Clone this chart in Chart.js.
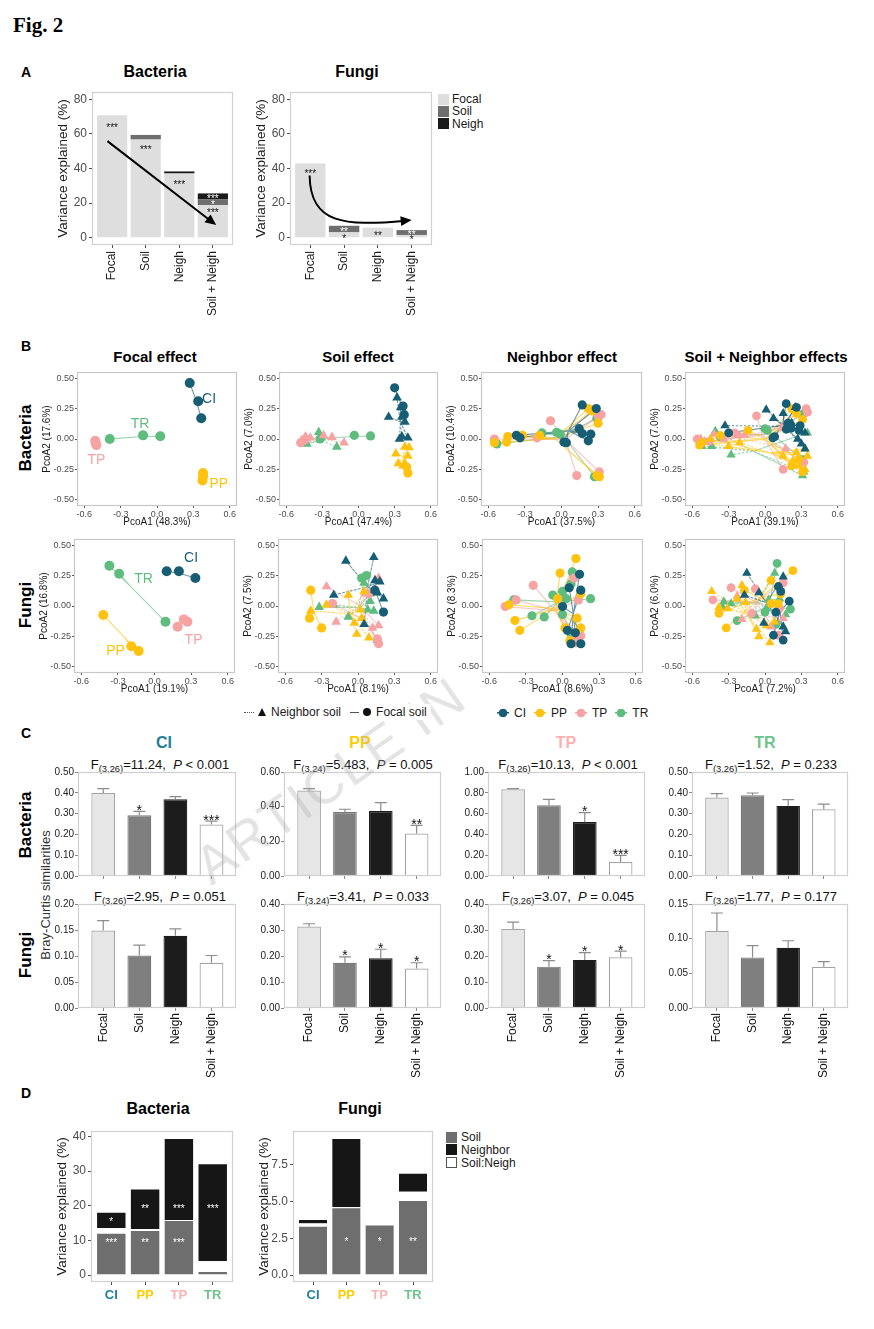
<!DOCTYPE html>
<html>
<head>
<meta charset="utf-8">
<title>Fig. 2</title>
<script src="https://cdn.jsdelivr.net/npm/chart.js@4.4.1/dist/chart.umd.min.js"></script>
<style>
  body { margin: 0; background: #fff; }
  #page { position: relative; width: 874px; height: 1329px; overflow: hidden; font-family: 'Liberation Sans', Arial, sans-serif; color: #111; }
  .t { position: absolute; white-space: nowrap; line-height: 1; }
  .t sub { font-size: 0.72em; vertical-align: -0.35em; line-height: 0; }
  .leg { position: absolute; display: flex; align-items: center; font-size: 12px; color: #1a1a1a; background: #fff; z-index: 5; height: 16px; }
  .leg span { display: inline-block; }
</style>
</head>
<body>
<div id="page"></div>
<script>
// ---------- panel A : variance explained
const aCats = ['Focal', 'Soil', 'Neigh', 'Soil + Neigh'];
const aBactFocal = [70.8, 56.7, 37.1, 18.9];
const aBactSoil = [0, 2.7, 0, 3.2];
const aBactNeigh = [0, 0, 1.2, 3.5];
const aFungFocal = [42.9, 3.1, 5.8, 1.6];
const aFungSoil = [0, 3.8, 0, 2.8];
const aFungNeigh = [0, 0, 0, 0];
const aTicks = [0, 20, 40, 60, 80];
const aBactSig = [[1, 65, '***', '#111'], [2, 52, '***', '#111'], [3, 32.3, '***', '#111'], [4, 24, '***', '#fff'], [4, 20.6, '*', '#fff'], [4, 15.6, '***', '#111']];
const aFungSig = [[1, 38.6, '***', '#111'], [2, 5.0, '**', '#fff'], [2, 1.0, '*', '#111'], [3, 2.8, '**', '#111'], [4, 3.0, '**', '#fff'], [4, 0.5, '*', '#111']];
const aBactArrow = [[0.86, 55.8], [4.1, 7.3]];
const aFungArrow = [[0.98, 36], [1.0, 8], [2.0, 6.5], [4.0, 10.2]];

// ---------- panel B : PCoA, rows are [species, shape, PcoA1, PcoA2]
const SP = ['CI', 'PP', 'TP', 'TR'];
const pcX = [-0.6, -0.3, 0, 0.3, 0.6];
const pcY = [-0.5, -0.25, 0, 0.25, 0.5];

const bFocalPts = [
  ['CI','o',0.27,0.46],['CI','o',0.34,0.31],['CI','o',0.365,0.17],
  ['TR','o',-0.39,0.0],['TR','o',-0.115,0.03],['TR','o',0.027,0.022],
  ['TP','o',-0.51,-0.015],['TP','o',-0.505,-0.035],['TP','o',-0.50,-0.05],
  ['PP','o',0.38,-0.28],['PP','o',0.38,-0.31],['PP','o',0.375,-0.34]
];
const bFocalTags = [['CI',0.43,0.34],['TR',-0.14,0.13],['TP',-0.50,-0.16],['PP',0.51,-0.36]];

const bSoilPts = [
  ['CI','o',0.30,0.42],['CI','o',0.37,0.27],['CI','o',0.38,0.20],
  ['CI','^',0.32,0.34],['CI','^',0.25,0.18],['CI','^',0.35,0.26],['CI','^',0.36,0.18],['CI','^',0.385,0.14],['CI','^',0.36,0.02],['CI','^',0.41,0.01],['CI','^',0.34,0.0],
  ['PP','o',0.40,-0.23],['PP','o',0.41,-0.28],
  ['PP','^',0.31,-0.12],['PP','^',0.33,-0.20],['PP','^',0.385,-0.065],['PP','^',0.42,-0.07],['PP','^',0.41,-0.14],['PP','^',0.385,-0.20],['PP','^',0.37,-0.22],
  ['TR','o',-0.32,0.0],['TR','o',-0.035,0.03],['TR','o',0.10,0.025],
  ['TR','^',-0.33,0.055],['TR','^',-0.31,0.01],['TR','^',-0.43,-0.04],['TR','^',-0.18,-0.065],
  ['TP','o',-0.45,-0.01],['TP','o',-0.48,-0.03],
  ['TP','^',-0.43,0.0],['TP','^',-0.40,0.01],['TP','^',-0.47,-0.01],['TP','^',-0.29,0.03],['TP','^',-0.22,0.015],['TP','^',-0.12,-0.03],['TP','^',-0.44,0.02]
];

const bNeighPts = [
  ['CI','o',0.17,0.28],['CI','o',0.285,0.25],['CI','o',0.145,0.085],['CI','o',0.17,0.045],['CI','o',0.24,0.04],['CI','o',0.22,-0.015],['CI','o',0.02,-0.025],['CI','o',0.04,-0.03],['CI','o',-0.37,0.03],['CI','o',-0.34,0.01],
  ['PP','o',0.22,0.25],['PP','o',0.25,0.23],['PP','o',0.30,0.13],['PP','o',-0.32,0.03],['PP','o',-0.44,0.02],['PP','o',-0.45,-0.025],['PP','o',-0.55,-0.03],['PP','o',-0.18,0.03],['PP','o',0.31,-0.31],['PP','o',0.29,-0.30],
  ['TP','o',-0.09,0.15],['TP','o',0.325,0.20],['TP','o',-0.20,0.01],['TP','o',0.125,-0.30],['TP','o',0.31,-0.27],['TP','o',-0.55,0.0],['TP','o',0.30,0.19],
  ['TR','o',0.30,0.18],['TR','o',0.27,-0.31],['TR','o',-0.53,-0.04],['TR','o',-0.16,0.05],['TR','o',-0.04,0.055],['TR','o',-0.01,0.04],['TR','o',0.29,0.17]
];

const bBothPts = [
  ['CI','^',0.01,0.24],['CI','^',0.15,0.21],['CI','^',0.07,0.17],['CI','^',-0.33,0.11],['CI','^',0.25,0.26],['CI','^',0.22,0.13],['CI','^',0.33,0.05],['CI','^',0.27,0.0],['CI','^',0.33,-0.08],['CI','^',0.30,-0.04],
  ['CI','o',0.175,0.29],['CI','o',0.26,0.26],['CI','o',0.19,0.13],['CI','o',0.175,0.08],['CI','o',0.215,0.09],['CI','o',0.08,0.02],['CI','o',0.065,0.01],['CI','o',-0.30,0.05],['CI','o',0.29,0.11],['CI','o',0.28,0.07],
  ['PP','o',0.22,0.25],['PP','o',0.26,0.21],['PP','o',0.31,0.16],['PP','o',-0.14,0.07],['PP','o',-0.37,0.03],['PP','o',-0.52,-0.03],['PP','o',-0.54,-0.05],['PP','o',0.31,-0.27],['PP','o',0.22,-0.22],['PP','o',0.28,-0.17],
  ['PP','^',0.15,-0.14],['PP','^',0.26,-0.11],['PP','^',0.33,-0.08],['PP','^',0.23,-0.18],['PP','^',0.28,-0.22],['PP','^',0.33,-0.25],['PP','^',0.35,-0.14],['PP','^',-0.53,-0.03],['PP','^',-0.45,0.0],['PP','^',-0.30,-0.06],['PP','^',-0.21,-0.03],
  ['TP','o',-0.07,0.19],['TP','o',0.15,-0.25],['TP','o',0.34,0.25],['TP','o',0.35,0.22],['TP','o',-0.56,0.0],['TP','o',-0.46,-0.02],['TP','o',-0.25,0.05],['TP','o',0.32,-0.19],
  ['TP','^',-0.42,0.04],['TP','^',-0.34,0.0],['TP','^',-0.21,0.03],['TP','^',-0.17,0.03],['TP','^',0.14,0.09],['TP','^',-0.50,-0.02],['TP','^',-0.53,0.0],['TP','^',0.17,-0.08],
  ['TR','o',0.32,0.21],['TR','o',0.0,0.085],['TR','o',0.02,0.07],['TR','o',-0.37,0.02],['TR','o',0.31,-0.17],
  ['TR','^',-0.41,0.065],['TR','^',-0.28,-0.13],['TR','^',-0.52,-0.06],['TR','^',0.35,0.05],['TR','^',0.31,-0.30],['TR','^',0.32,-0.27],['TR','^',-0.44,-0.06]
];

const fFocalPts = [
  ['CI','o',0.10,0.285],['CI','o',0.20,0.285],['CI','o',0.335,0.23],
  ['TR','o',-0.37,0.33],['TR','o',-0.29,0.265],['TR','o',0.09,-0.13],
  ['TP','o',0.19,-0.17],['TP','o',0.24,-0.11],['TP','o',0.27,-0.13],
  ['PP','o',-0.42,-0.074],['PP','o',-0.19,-0.33],['PP','o',-0.13,-0.37]
];
const fFocalTags = [['CI',0.30,0.40],['TR',-0.09,0.23],['TP',0.32,-0.27],['PP',-0.32,-0.36]];

const fSoilPts = [
  ['CI','^',-0.10,0.37],['CI','^',0.13,0.40],['CI','^',-0.20,0.09],['CI','^',0.14,0.21],['CI','^',0.18,0.20],['CI','^',0.14,0.13],['CI','^',0.16,0.11],['CI','^',0.21,0.06],['CI','^',0.05,-0.15],
  ['CI','o',0.21,-0.05],['CI','o',0.14,0.13],
  ['PP','o',-0.39,0.13],['PP','o',-0.40,-0.10],['PP','o',-0.30,-0.18],
  ['PP','^',-0.39,-0.04],['PP','^',-0.08,0.09],['PP','^',0.05,0.12],['PP','^',-0.03,-0.14],['PP','^',-0.01,-0.23],['PP','^',0.09,-0.26],['PP','^',0.02,-0.03],['PP','^',0.03,-0.10],['PP','^',-0.26,0.01],
  ['TR','o',0.03,0.23],['TR','o',0.07,0.25],
  ['TR','^',0.05,0.19],['TR','^',-0.20,0.01],['TR','^',0.10,0.10],['TR','^',0.10,0.04],['TR','^',0.13,-0.04],['TR','^',-0.32,-0.01],['TR','^',-0.08,-0.09],['TR','^',0.08,-0.03],['TR','^',0.16,-0.28],
  ['TP','^',-0.26,0.16],['TP','^',-0.18,-0.13],['TP','^',0.17,0.23],['TP','^',0.06,0.10],['TP','^',0.17,-0.16],['TP','^',0.12,-0.18],
  ['TP','o',-0.21,0.02],['TP','o',0.16,-0.27],['TP','o',0.17,-0.31],['TP','o',0.09,0.10]
];

const fNeighPts = [
  ['CI','o',0.14,0.26],['CI','o',0.055,0.15],['CI','o',0.15,0.13],['CI','o',0.0,-0.005],['CI','o',0.04,-0.20],['CI','o',0.07,-0.31],['CI','o',0.15,-0.31],['CI','o',0.105,-0.22],
  ['PP','o',0.11,0.39],['PP','o',-0.02,0.27],['PP','o',-0.44,0.01],['PP','o',-0.39,-0.12],['PP','o',-0.35,-0.20],['PP','o',-0.04,0.06],['PP','o',0.15,0.10],['PP','o',0.02,-0.18],['PP','o',0.06,-0.285],['PP','o',0.15,-0.18],['PP','o',0.12,-0.10],
  ['TP','o',-0.24,0.17],['TP','o',-0.47,-0.005],['TP','o',-0.38,0.05],['TP','o',0.095,0.23],['TP','o',0.13,0.05],['TP','o',0.11,-0.25],['TP','o',0.15,-0.245],['TP','o',0.11,-0.30],
  ['TR','o',-0.40,0.05],['TR','o',-0.25,-0.08],['TR','o',-0.15,-0.09],['TR','o',-0.08,0.09],['TR','o',0.0,0.12],['TR','o',0.03,0.06],['TR','o',0.08,0.28],['TR','o',0.07,0.18],['TR','o',0.23,0.06],['TR','o',0.0,-0.07],['TR','o',0.07,-0.23]
];

const fBothPts = [
  ['CI','^',-0.15,0.27],['CI','^',0.15,0.24],['CI','^',-0.05,0.11],['CI','^',-0.17,0.09],['CI','^',-0.01,-0.14],['CI','^',0.15,-0.17],['CI','^',0.17,-0.21],
  ['CI','o',0.11,0.16],['CI','o',0.13,0.12],['CI','o',0.20,0.04],['CI','o',0.09,-0.05],['CI','o',0.15,-0.28],['CI','o',0.07,-0.24],
  ['PP','^',-0.44,0.12],['PP','^',-0.19,0.17],['PP','^',-0.38,-0.01],['PP','^',-0.31,-0.02],['PP','^',-0.23,0.06],['PP','^',-0.16,0.03],['PP','^',-0.07,-0.19],['PP','^',-0.05,-0.25],['PP','^',0.04,-0.30],['PP','^',0.01,-0.16],['PP','^',0.08,-0.13],
  ['PP','o',-0.38,-0.06],['PP','o',-0.32,-0.18],['PP','o',0.23,0.29],['PP','o',0.05,0.21],['PP','o',0.13,0.10],['PP','o',0.11,0.02],['PP','o',0.05,0.02],['PP','o',-0.17,0.13],
  ['TP','o',-0.43,0.05],['TP','o',-0.28,0.15],['TP','o',-0.08,0.14],['TP','o',0.15,0.19],['TP','o',0.12,-0.02],['TP','o',0.11,-0.24],['TP','o',-0.11,-0.06],
  ['TP','^',-0.19,-0.11],['TP','^',-0.23,0.08],['TP','^',0.15,-0.10],['TP','^',0.05,-0.17],
  ['TR','o',0.10,0.35],['TR','o',0.21,-0.025],['TR','o',-0.23,-0.12],['TR','o',0.0,-0.05],['TR','o',0.09,-0.15],
  ['TR','^',0.08,0.27],['TR','^',-0.34,0.035],['TR','^',-0.28,0.02],['TR','^',-0.35,-0.01],['TR','^',0.01,-0.02],['TR','^',0.12,0.06],['TR','^',0.03,0.05],['TR','^',-0.08,-0.08],['TR','^',0.17,-0.07]
];

// ---------- panel C : Bray-Curtis similarities (mean, s.e., significance)
const cCats = ['Focal', 'Soil', 'Neigh', 'Soil + Neigh'];
const bactCI = [0.399, 0.292, 0.369, 0.247];
const bactCIse = [0.021, 0.019, 0.013, 0.017];
const bactCIsig = ['', '*', '', '***'];
const bactPP = [0.493, 0.369, 0.375, 0.245];
const bactPPse = [0.011, 0.016, 0.048, 0.047];
const bactPPsig = ['', '', '', '**'];
const bactTP = [0.834, 0.68, 0.519, 0.135];
const bactTPse = [0.006, 0.057, 0.091, 0.064];
const bactTPsig = ['', '', '*', '***'];
const bactTR = [0.377, 0.388, 0.337, 0.321];
const bactTRse = [0.019, 0.011, 0.030, 0.025];
const bactTRsig = ['', '', '', ''];
const fungCI = [0.149, 0.101, 0.139, 0.087];
const fungCIse = [0.019, 0.020, 0.013, 0.014];
const fungCIsig = ['', '', '', ''];
const fungPP = [0.313, 0.174, 0.191, 0.152];
const fungPPse = [0.011, 0.023, 0.035, 0.022];
const fungPPsig = ['', '*', '*', '*'];
const fungTP = [0.304, 0.159, 0.185, 0.195];
const fungTPse = [0.026, 0.023, 0.028, 0.024];
const fungTPsig = ['', '*', '*', '*'];
const fungTR = [0.111, 0.073, 0.087, 0.0595];
const fungTRse = [0.026, 0.017, 0.010, 0.0075];
const fungTRsig = ['', '', '', ''];
const tk05 = [0, 0.1, 0.2, 0.3, 0.4, 0.5];
const tk06 = [0, 0.2, 0.4, 0.6];
const tk10 = [0, 0.2, 0.4, 0.6, 0.8, 1.0];
const tk02 = [0, 0.05, 0.1, 0.15, 0.2];
const tk04 = [0, 0.1, 0.2, 0.3, 0.4];
const tk015 = [0, 0.05, 0.1, 0.15];
const cStats = [
  ['3,26', '=11.24', '&lt; 0.001'], ['3,24', '=5.483', '= 0.005'], ['3,26', '=10.13', '&lt; 0.001'], ['3,26', '=1.52', '= 0.233'],
  ['3,26', '=2.95', '= 0.051'], ['3,24', '=3.41', '= 0.033'], ['3,26', '=3.07', '= 0.045'], ['3,26', '=1.77', '= 0.177']
];

// ---------- panel D : soil / neighbour partition per focal species
const dCats = ['CI', 'PP', 'TP', 'TR'];
const dBactSoil = [12.2, 13.0, 15.9, 1.2];
const dBactShared = [1.3, 0.2, 0, 2.8];
const dBactNeigh = [4.8, 11.8, 23.7, 28.3];
const dFungSoil = [3.35, 4.6, 3.43, 5.1];
const dFungShared = [0.15, 0, 0, 0.55];
const dFungNeigh = [0.3, 4.7, 0, 1.3];
const dBactTicks = [0, 10, 20, 30, 40];
const dFungTicks = [0, 2.5, 5, 7.5];
const dBactSig = [[1, 16, '*', '#fff'], [1, 10, '***', '#fff'], [2, 19.8, '**', '#fff'], [2, 10, '**', '#fff'], [3, 19.8, '***', '#fff'], [3, 10, '***', '#fff'], [4, 19.8, '***', '#fff']];
const dFungSig = [[2, 2.4, '*', '#fff'], [3, 2.4, '*', '#fff'], [4, 2.4, '**', '#fff']];

// ---------- colours
const spCol = ['#175e75', '#ffc20e', '#f7a3a3', '#5ebc7e'];
const spHead = ['#23809b', '#ffcc00', '#ffb0b0', '#6cc48c'];
const cFill = ['#e6e6e6', '#7f7f7f', '#1c1c1c', '#ffffff'];
const cEdge = ['#a3a3a3', '#777777', '#1c1c1c', '#a3a3a3'];

const page = document.getElementById('page');
Chart.defaults.font.family = "'Liberation Sans', Arial, sans-serif";
Chart.defaults.plugins.legend.display = false;
Chart.defaults.plugins.tooltip.enabled = false;
Chart.defaults.animation = false;
const PAD = 10;

function label(html, x, y, css, rot, left) {
  const d = document.createElement('div');
  d.className = 't';
  d.innerHTML = html;
  d.style.cssText = css || '';
  d.style.left = x + 'px';
  d.style.top = y + 'px';
  d.style.transform = (left ? 'translate(0,-50%)' : 'translate(-50%,-50%)') + (rot ? ' rotate(' + rot + 'deg)' : '');
  page.appendChild(d);
  return d;
}

function fixed(vals) {
  return a => { a.ticks = vals.map(v => ({ value: v })); };
}

function gridT(len, color) {
  return { display: true, drawOnChartArea: false, drawTicks: true, tickLength: len, color: color, lineWidth: 1, offset: false };
}

// panel box p = [left, top, width, height] of the plotting area
function place(p, yw, xh, cfg) {
  const c = document.createElement('canvas');
  c.width = p[2] + yw + 2 * PAD;
  c.height = p[3] + xh + 2 * PAD;
  c.style.cssText = 'position:absolute;left:' + (p[0] - yw - PAD) + 'px;top:' + (p[1] - PAD) + 'px';
  page.appendChild(c);
  const o = cfg.options;
  o.responsive = false;
  o.animation = false;
  o.layout = { padding: PAD };
  o.scales.x.afterFit = a => { a.height = xh; };
  o.scales.y.afterFit = a => { a.width = yw; };
  return new Chart(c, cfg);
}

function frame(color) {
  return {
    id: 'frame',
    afterDatasetsDraw(chart) {
      const a = chart.chartArea, ctx = chart.ctx;
      ctx.save();
      ctx.strokeStyle = color;
      ctx.lineWidth = 1.2;
      ctx.strokeRect(a.left + 0.5, a.top + 0.5, a.right - a.left - 1, a.bottom - a.top - 1);
      ctx.restore();
    }
  };
}

function notes(items, size) {
  return {
    id: 'notes',
    afterDatasetsDraw(chart) {
      const ctx = chart.ctx, xs = chart.scales.x, ys = chart.scales.y;
      ctx.save();
      ctx.textAlign = 'center';
      ctx.textBaseline = 'alphabetic';
      items.forEach(n => {
        const s = n[4] || size;
        ctx.font = s + "px 'Liberation Sans', Arial";
        ctx.fillStyle = n[3];
        const off = n[2].charAt(0) === '*' ? 0.57 : 0.36;
        ctx.fillText(n[2], xs.getPixelForValue(n[0]), ys.getPixelForValue(n[1]) + off * s);
      });
      ctx.restore();
    }
  };
}

function arrow(pts) {
  return {
    id: 'arrow',
    afterDatasetsDraw(chart) {
      if (!pts) return;
      const ctx = chart.ctx, xs = chart.scales.x, ys = chart.scales.y;
      const p = pts.map(q => [xs.getPixelForValue(q[0]), ys.getPixelForValue(q[1])]);
      const e = p[p.length - 1], s = p[p.length - 2];
      const ang = Math.atan2(e[1] - s[1], e[0] - s[0]);
      ctx.save();
      ctx.strokeStyle = '#000';
      ctx.fillStyle = '#000';
      ctx.lineWidth = 2;
      ctx.beginPath();
      ctx.moveTo(p[0][0], p[0][1]);
      if (p.length === 4) ctx.bezierCurveTo(p[1][0], p[1][1], p[2][0], p[2][1], e[0] - 6 * Math.cos(ang), e[1] - 6 * Math.sin(ang));
      else ctx.lineTo(e[0] - 6 * Math.cos(ang), e[1] - 6 * Math.sin(ang));
      ctx.stroke();
      ctx.beginPath();
      ctx.moveTo(e[0], e[1]);
      ctx.lineTo(e[0] - 11 * Math.cos(ang) + 5 * Math.sin(ang), e[1] - 11 * Math.sin(ang) - 5 * Math.cos(ang));
      ctx.lineTo(e[0] - 11 * Math.cos(ang) - 5 * Math.sin(ang), e[1] - 11 * Math.sin(ang) + 5 * Math.cos(ang));
      ctx.closePath();
      ctx.fill();
      ctx.restore();
    }
  };
}

function errbars(vals, se, sig) {
  return {
    id: 'errbars',
    afterDatasetsDraw(chart) {
      const ctx = chart.ctx, xs = chart.scales.x, ys = chart.scales.y;
      ctx.save();
      vals.forEach((v, i) => {
        const x = xs.getPixelForValue(i + 1), y0 = ys.getPixelForValue(v), y1 = ys.getPixelForValue(v + se[i]);
        ctx.strokeStyle = '#8c8c8c';
        ctx.lineWidth = 1.2;
        ctx.beginPath();
        ctx.moveTo(x, y0); ctx.lineTo(x, y1);
        ctx.moveTo(x - 6, y1); ctx.lineTo(x + 6, y1);
        ctx.stroke();
        if (sig[i]) {
          ctx.fillStyle = '#111';
          ctx.font = "14px 'Liberation Sans', Arial";
          ctx.textAlign = 'center';
          ctx.fillText(sig[i], x, y1 + 3.5);
        }
      });
      ctx.restore();
    }
  };
}

function stackCfg(o) {
  return {
    type: 'bar',
    data: {
      datasets: o.segs.map((s, i) => ({
        data: s.map((v, j) => ({ x: j + 1, y: v })),
        backgroundColor: o.fills[i], borderColor: '#fff', borderWidth: o.bw,
        barPercentage: 0.9, categoryPercentage: 1
      }))
    },
    options: {
      scales: {
        x: {
          type: 'linear', min: 0.4, max: 4.6, stacked: true, offset: false, afterBuildTicks: fixed([1, 2, 3, 4]),
          grid: gridT(3, '#4d4d4d'), border: { display: false },
          ticks: { callback: v => o.names[v - 1], autoSkip: false, minRotation: o.rot, maxRotation: o.rot, font: o.xFont, color: o.xColor, padding: 3 }
        },
        y: {
          min: o.yMin, max: o.yMax, stacked: true, afterBuildTicks: fixed(o.ticks),
          grid: gridT(3, '#4d4d4d'), border: { display: false },
          ticks: { callback: o.fmt, font: { size: 12 }, color: '#4d4d4d', padding: 2 },
          title: { display: true, text: 'Variance explained (%)', font: { size: 13.5 }, color: '#1a1a1a', padding: { top: 3, bottom: 2 } }
        }
      }
    },
    plugins: [frame('#d0d0d0'), notes(o.sig, 10), arrow(o.arrow)]
  };
}

function pcoaCfg(pts, xt, yt, tags, r) {
  const ds = [];
  SP.forEach((sp, k) => {
    ['o', '^'].forEach(sh => {
      const g = pts.filter(p => p[0] === sp && p[1] === sh);
      if (!g.length) return;
      const cx = g.reduce((s, p) => s + p[2], 0) / g.length;
      const cy = g.reduce((s, p) => s + p[3], 0) / g.length;
      const web = [];
      g.forEach(p => web.push({ x: cx, y: cy }, { x: p[2], y: p[3] }));
      ds.push({ data: web, showLine: true, pointRadius: 0, borderColor: spCol[k] + 'a0', borderWidth: 1.1, borderDash: sh === '^' ? [2, 2] : [], order: 2 });
      ds.push({
        data: g.map(p => ({ x: p[2], y: p[3] })), pointStyle: sh === '^' ? 'triangle' : 'circle',
        pointRadius: sh === '^' ? r + 1 : r, backgroundColor: spCol[k], borderColor: spCol[k], borderWidth: 0, order: 1
      });
    });
  });
  const items = (tags || []).map(t => [t[1], t[2], t[0], spCol[SP.indexOf(t[0])], 14]);
  return {
    type: 'scatter',
    data: { datasets: ds },
    options: {
      scales: {
        x: {
          type: 'linear', min: -0.66, max: 0.66, afterBuildTicks: fixed(pcX), grid: gridT(2, '#555'), border: { display: false },
          ticks: { callback: v => v.toFixed(1), font: { size: 9 }, color: '#4d4d4d', padding: 1, maxRotation: 0 },
          title: { display: true, text: xt, font: { size: 10 }, color: '#1a1a1a', padding: { top: 0, bottom: 4 } }
        },
        y: {
          type: 'linear', min: -0.55, max: 0.55, afterBuildTicks: fixed(pcY), grid: gridT(2, '#555'), border: { display: false },
          ticks: { callback: v => v.toFixed(2), font: { size: 9 }, color: '#4d4d4d', padding: 1 },
          title: { display: true, text: yt, font: { size: 10 }, color: '#1a1a1a', padding: { top: 4, bottom: 2 } }
        }
      }
    },
    plugins: [frame('#c8c8c8'), notes(items, 14)]
  };
}

function simCfg(vals, se, sig, ticks, showNames) {
  return {
    type: 'bar',
    data: {
      datasets: [{
        data: vals.map((v, i) => ({ x: i + 1, y: v })),
        backgroundColor: cFill, borderColor: cEdge, borderWidth: 1.2,
        barPercentage: 0.66, categoryPercentage: 1
      }]
    },
    options: {
      scales: {
        x: {
          type: 'linear', min: 0.3, max: 4.68, offset: false, afterBuildTicks: fixed([1, 2, 3, 4]),
          grid: gridT(3, '#888'), border: { display: false },
          ticks: { callback: v => showNames ? cCats[v - 1] : '', autoSkip: false, minRotation: 90, maxRotation: 90, font: { size: 12 }, color: '#111', padding: 2 }
        },
        y: {
          min: 0, max: ticks[ticks.length - 1], afterBuildTicks: fixed(ticks),
          grid: gridT(3, '#888'), border: { display: false },
          ticks: { callback: v => v.toFixed(2), font: { size: 10 }, color: '#222', padding: 1 }
        }
      }
    },
    plugins: [frame('#cfcfcf'), errbars(vals, se, sig)]
  };
}

function keyLegend(x, y, step, items, textX) {
  items.forEach((it, i) => {
    const k = document.createElement('div');
    k.style.cssText = 'position:absolute;left:' + x + 'px;top:' + (y + i * step) + 'px;width:11px;height:11px;box-sizing:border-box;background:' + it[0] + (it[2] ? ';border:1px solid ' + it[2] : '');
    page.appendChild(k);
    label(it[1], textX, y + i * step + 5.5, 'font-size:12px;color:#1a1a1a', 0, true);
  });
}

// ---------- texts
label('Fig. 2', 13, 25, "font-family:'Liberation Serif',serif;font-weight:bold;font-size:21px;color:#000", 0, true);
[['A', 72], ['B', 346], ['C', 733], ['D', 1093]].forEach(l => label(l[0], 26, l[1], 'font-weight:bold;font-size:14px;color:#000'));
const bold16 = 'font-weight:bold;font-size:16px;color:#000';
label('Bacteria', 155, 72, bold16);
label('Fungi', 357, 72, bold16);
label('Bacteria', 158, 1109, bold16);
label('Fungi', 360, 1109, bold16);
const head15 = 'font-weight:bold;font-size:15px;color:#000';
label('Focal effect', 155, 356, head15);
label('Soil effect', 358, 356, head15);
label('Neighbor effect', 562, 356, head15);
label('Soil + Neighbor effects', 766, 356, head15);
const row17 = 'font-weight:bold;font-size:17px;color:#000';
label('Bacteria', 25, 438, row17, -90);
label('Fungi', 25, 605, row17, -90);
label('Bacteria', 25, 825, row17, -90);
label('Fungi', 25, 955, row17, -90);
label('Bray-Curtis similarities', 45, 895, 'font-size:13px;color:#333', -90);
[164, 360, 566, 765].forEach((x, i) => label(SP[i], x, 743, 'font-weight:bold;font-size:16px;color:' + spHead[i]));
const cCenters = [160, 363, 568, 771];
cStats.forEach((s, i) => {
  label('F<sub>(' + s[0] + ')</sub>' + s[1] + ',&nbsp; <i>P</i> ' + s[2], cCenters[i % 4], i < 4 ? 764 : 896, 'font-size:13px;color:#111');
});

// ---------- legends
keyLegend(438, 93.5, 12.4, [['#dedede', 'Focal'], ['#6e6e6e', 'Soil'], ['#1a1a1a', 'Neigh']], 452);
keyLegend(446, 1131.5, 12.8, [['#6e6e6e', 'Soil'], ['#161616', 'Neighbor'], ['#ffffff', 'Soil:Neigh', '#555']], 461);

const legSoil = document.createElement('div');
legSoil.className = 'leg';
legSoil.style.cssText = 'left:240px;top:704px;padding:0 4px';
legSoil.innerHTML =
  '<span style="width:10px;border-top:1.5px dotted #555"></span>' +
  '<span style="margin-left:4px;width:0;height:0;border-left:4.5px solid transparent;border-right:4.5px solid transparent;border-bottom:8px solid #111"></span>' +
  '<span style="margin-left:5px">Neighbor soil</span>' +
  '<span style="margin-left:9px;width:9px;border-top:1.5px solid #555"></span>' +
  '<span style="margin-left:4px;width:8px;height:8px;border-radius:50%;background:#111"></span>' +
  '<span style="margin-left:5px">Focal soil</span>';
page.appendChild(legSoil);

const legSp = document.createElement('div');
legSp.className = 'leg';
legSp.style.cssText = 'left:494px;top:705px;padding:0 3px';
legSp.innerHTML = SP.map((s, i) =>
  '<span style="margin-left:' + (i ? 8 : 0) + 'px;width:12px;height:10px;background:radial-gradient(circle at center,' + spCol[i] + ' 0 4px,transparent 4.6px),linear-gradient(' + spCol[i] + ',' + spCol[i] + ') 0 50%/100% 1.5px no-repeat"></span>' +
  '<span style="margin-left:5px">' + s + '</span>').join('');
page.appendChild(legSp);

// ---------- charts: panel A
place([92, 92, 141, 153], 40, 80, stackCfg({
  segs: [aBactFocal, aBactSoil, aBactNeigh], fills: ['#dedede', '#6e6e6e', '#1a1a1a'], bw: 0,
  yMin: -4.2, yMax: 84.2, ticks: aTicks, fmt: v => String(v), names: aCats, rot: 90,
  xFont: { size: 12 }, xColor: '#1a1a1a', sig: aBactSig, arrow: aBactArrow
}));
place([290, 92, 142, 153], 40, 80, stackCfg({
  segs: [aFungFocal, aFungSoil, aFungNeigh], fills: ['#dedede', '#6e6e6e', '#1a1a1a'], bw: 0,
  yMin: -4.2, yMax: 84.2, ticks: aTicks, fmt: v => String(v), names: aCats, rot: 90,
  xFont: { size: 12 }, xColor: '#1a1a1a', sig: aFungSig, arrow: aFungArrow
}));

// ---------- panel B
place([77, 372, 160, 134], 40, 26, pcoaCfg(bFocalPts, 'PcoA1 (48.3%)', 'PcoA2 (17.6%)', bFocalTags, 5));
place([279, 372, 159, 134], 40, 26, pcoaCfg(bSoilPts, 'PcoA1 (47.4%)', 'PcoA2 (7.0%)', null, 4.6));
place([481, 372, 161, 134], 40, 26, pcoaCfg(bNeighPts, 'PcoA1 (37.5%)', 'PcoA2 (10.4%)', null, 4.6));
place([685, 372, 160, 134], 40, 26, pcoaCfg(bBothPts, 'PcoA1 (39.1%)', 'PcoA2 (7.0%)', null, 4.4));
place([74, 539, 161, 134], 40, 26, pcoaCfg(fFocalPts, 'PcoA1 (19.1%)', 'PcoA2 (16.8%)', fFocalTags, 5));
place([278, 539, 160, 134], 40, 26, pcoaCfg(fSoilPts, 'PcoA1 (8.1%)', 'PcoA2 (7.5%)', null, 4.6));
place([482, 539, 161, 134], 40, 26, pcoaCfg(fNeighPts, 'PcoA1 (8.6%)', 'PcoA2 (8.3%)', null, 4.6));
place([685, 539, 160, 134], 40, 26, pcoaCfg(fBothPts, 'PcoA1 (7.2%)', 'PcoA2 (6.0%)', null, 4.4));

// ---------- panel C
place([78, 772, 158, 104], 34, 6, simCfg(bactCI, bactCIse, bactCIsig, tk05, false));
place([284, 772, 157, 104], 34, 6, simCfg(bactPP, bactPPse, bactPPsig, tk06, false));
place([488, 772, 157, 104], 34, 6, simCfg(bactTP, bactTPse, bactTPsig, tk10, false));
place([692, 772, 156, 104], 34, 6, simCfg(bactTR, bactTRse, bactTRsig, tk05, false));
place([78, 904, 158, 104], 34, 80, simCfg(fungCI, fungCIse, fungCIsig, tk02, true));
place([284, 904, 157, 104], 34, 80, simCfg(fungPP, fungPPse, fungPPsig, tk04, true));
place([488, 904, 157, 104], 34, 80, simCfg(fungTP, fungTPse, fungTPsig, tk04, true));
place([692, 904, 156, 104], 34, 80, simCfg(fungTR, fungTRse, fungTRsig, tk015, true));

// ---------- panel D
place([91, 1131, 142, 151], 40, 26, stackCfg({
  segs: [dBactSoil, dBactShared, dBactNeigh], fills: ['#6e6e6e', '#ffffff', '#161616'], bw: 1,
  yMin: -2, yMax: 41.6, ticks: dBactTicks, fmt: v => String(v), names: dCats, rot: 0,
  xFont: { size: 13, weight: 'bold' }, xColor: c => spHead[c.index], sig: dBactSig, arrow: null
}));
place([293, 1131, 140, 151], 40, 26, stackCfg({
  segs: [dFungSoil, dFungShared, dFungNeigh], fills: ['#6e6e6e', '#ffffff', '#161616'], bw: 1,
  yMin: -0.47, yMax: 9.78, ticks: dFungTicks, fmt: v => v.toFixed(1), names: dCats, rot: 0,
  xFont: { size: 13, weight: 'bold' }, xColor: c => spHead[c.index], sig: dFungSig, arrow: null
}));

// watermark across the middle of the page
label('ARTICLE IN', 330, 780, 'font-size:54px;letter-spacing:2px;color:rgba(175,175,175,0.35);z-index:3;pointer-events:none', -35);
</script>
</body>
</html>
